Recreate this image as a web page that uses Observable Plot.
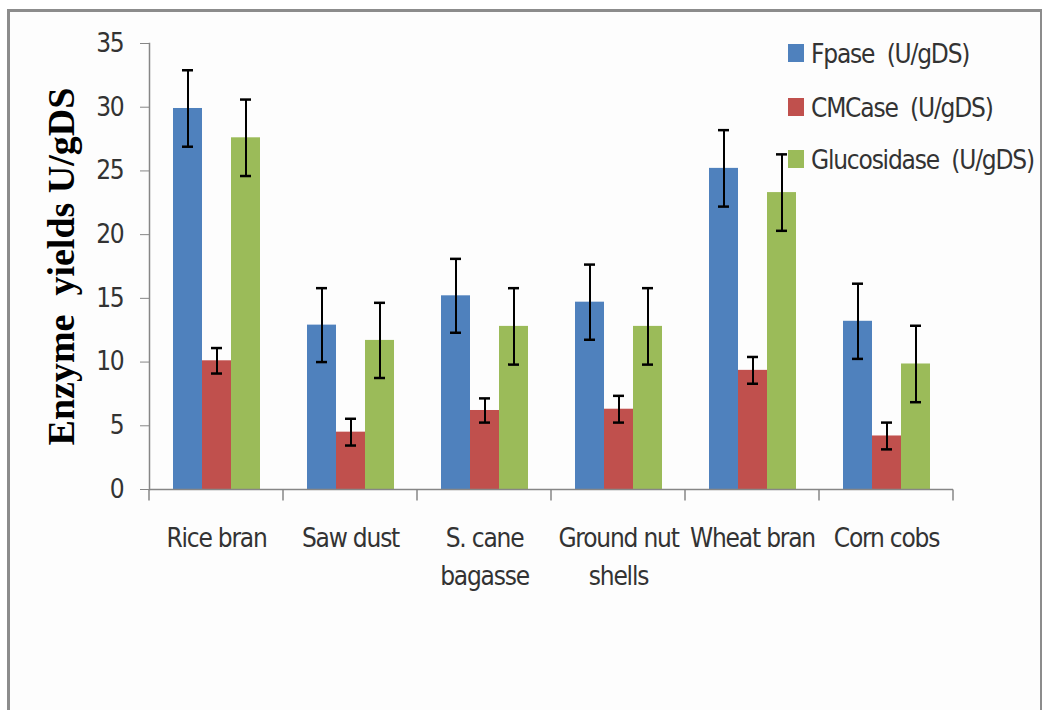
<!DOCTYPE html>
<html><head><meta charset="utf-8">
<script src="https://cdn.jsdelivr.net/npm/d3@7"></script>
<script src="https://cdn.jsdelivr.net/npm/@observablehq/plot@0.6"></script>
<style>
html,body{margin:0;padding:0;background:#fff;}
#wrap{position:relative;width:1042px;height:710px;overflow:hidden;}
#border{position:absolute;left:7px;top:9px;width:1030px;height:760px;border:3px solid #8c8c8c;background:#fdfdfd;}
#chart{position:absolute;left:0;top:0;}
#legend{position:absolute;left:788px;top:0;width:252px;height:180px;font-family:"Liberation Sans Narrow","DejaVu Sans Condensed","Open Sans",sans-serif;font-size:26px;letter-spacing:-1.2px;color:#333;}
#legend .sw{position:absolute;left:0;width:16px;height:18px;}
#legend .lab{position:absolute;left:23px;line-height:28px;white-space:pre;}
svg text{white-space:pre;}
svg .sans text{letter-spacing:-1.2px;}
</style></head><body>
<div id="wrap"><div id="border"></div><div id="chart"></div><div id="legend"></div></div>
<script>
const categories = ["Rice bran","Saw dust","S. cane\nbagasse","Ground nut\nshells","Wheat bran","Corn cobs"];
const series = ["Fpase  (U/gDS)","CMCase  (U/gDS)","Glucosidase  (U/gDS)"];
const fpase = [29.9,12.9,15.2,14.7,25.2,13.2];
const fpaseErr = [3.0,2.9,2.9,2.95,3.0,2.95];
const cmcase = [10.1,4.5,6.2,6.3,9.35,4.2];
const cmcaseErr = [1.0,1.05,0.95,1.05,1.05,1.05];
const glucosidase = [27.6,11.7,12.8,12.8,23.3,9.85];
const glucosidaseErr = [3.0,2.95,3.0,3.0,3.0,3.0];
const colors = ["#4f81bd","#c0504d","#9bbb59"];
const yTicks = [0,5,10,15,20,25,30,35];
const yLabel = "Enzyme  yields U/gDS";

const values = [fpase, cmcase, glucosidase];
const errs = [fpaseErr, cmcaseErr, glucosidaseErr];
const rows = [];
categories.forEach((c, i) => series.forEach((s, k) => rows.push({category: c, series: s, value: values[k][i], err: errs[k][i]})));

const font = '"Liberation Sans Narrow","DejaVu Sans Condensed","Open Sans",sans-serif';
const axisGray = "#868686";

function tickAt(side) {
  return function(index, scales, vals, dims, ctx, next) {
    const g = next(index, scales, vals, dims, ctx);
    d3.select(g).selectAll("line").each(function() {
      const s = d3.select(this);
      const x = +s.attr(side);
      const y = +s.attr("y1");
      s.attr("x1", x).attr("x2", x).attr("y2", y + 11);
    });
    return g;
  };
}

const chart = Plot.plot({
  width: 1042, height: 710,
  marginLeft: 148, marginRight: 88, marginTop: 43, marginBottom: 221,
  style: {fontFamily: font, background: "transparent", color: "#333", overflow: "visible"},
  fx: {domain: categories, padding: 0, label: null, axis: null},
  x: {domain: series, paddingInner: 0, paddingOuter: 0.755, axis: null},
  y: {domain: [0, 35], axis: null},
  color: {domain: series, range: colors},
  marks: [
    Plot.barY(rows, {fx: "category", x: "series", y: "value", fill: "series"}),
    Plot.ruleY([0], {stroke: axisGray, strokeWidth: 1.5}),
    Plot.ruleY([0], {stroke: axisGray, strokeWidth: 1.5, render: tickAt("x1")}),
    Plot.ruleY([0], {stroke: axisGray, strokeWidth: 1.5, facetAnchor: "right", render: tickAt("x2")}),
    Plot.frame({anchor: "left", facetAnchor: "left", stroke: axisGray, strokeWidth: 1.5}),
    Plot.ruleX(rows, {fx: "category", x: "series", y1: d => d.value - d.err, y2: d => d.value + d.err, stroke: "#000", strokeWidth: 2}),
    Plot.tickY(rows, {fx: "category", x: "series", y: d => d.value - d.err, stroke: "#000", strokeWidth: 2.5, insetLeft: 9, insetRight: 9}),
    Plot.tickY(rows, {fx: "category", x: "series", y: d => d.value + d.err, stroke: "#000", strokeWidth: 2.5, insetLeft: 9, insetRight: 9}),
    Plot.axisY({ticks: yTicks, tickSize: 9, tickPadding: 17, fontSize: 26, stroke: axisGray, fill: "#333", label: null, facetAnchor: "left", className: "sans"}),
    Plot.text([yLabel], {frameAnchor: "left", facetAnchor: "left", rotate: -90, dx: -88, fontSize: 38, fontWeight: "bold", fontFamily: '"Liberation Serif","Times New Roman",serif', fill: "#000", textAnchor: "middle", lineAnchor: "middle"}),
    Plot.axisFx({anchor: "bottom", tickSize: 0, tickPadding: 31, fontSize: 26, lineHeight: 1.46, fill: "#333", label: null, className: "sans"})
  ]
});
document.getElementById("chart").appendChild(chart);

const leg = d3.select("#legend");
const rowCenters = [53, 107, 159];
series.forEach((s, k) => {
  leg.append("div").attr("class", "sw").style("top", (rowCenters[k] - 9) + "px").style("background", colors[k]);
  leg.append("div").attr("class", "lab").style("top", (rowCenters[k] - 13.5) + "px").text(s);
});
</script>
</body></html>
